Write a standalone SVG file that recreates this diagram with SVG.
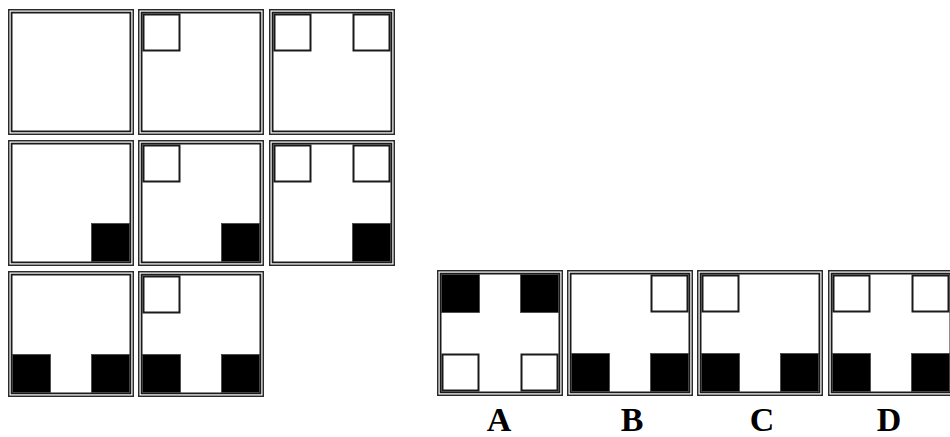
<svg xmlns="http://www.w3.org/2000/svg" xmlns:xlink="http://www.w3.org/1999/xlink" width="950" height="437" viewBox="0 0 950 437">
<style>
.o{fill:#fff;stroke:#2a2a2a;stroke-width:1.5}
.i{fill:none;stroke:#1a1a1a;stroke-width:1.8}
.w{fill:#fff;stroke:#1a1a1a;stroke-width:2}
.b{fill:#000;stroke:#444;stroke-width:0.8}
.lbl{font-family:"Liberation Serif","Times New Roman",serif;font-weight:bold;font-size:34px;fill:#000;text-anchor:middle}
</style>
<defs>
<g id="frame">
<rect class="o" x="0.75" y="0.75" width="124.5" height="124.5"/>
<rect class="i" x="3.6" y="3.6" width="118.8" height="118.8"/>
</g>
<rect id="wTL" class="w" x="5.5" y="5.5" width="36" height="36"/>
<rect id="wTR" class="w" x="84.5" y="5.5" width="36" height="36"/>
<rect id="wBL" class="w" x="5.5" y="84.5" width="36" height="36"/>
<rect id="wBR" class="w" x="84.5" y="84.5" width="36" height="36"/>
<rect id="bTL" class="b" x="4.5" y="4.5" width="38" height="38"/>
<rect id="bTR" class="b" x="83.5" y="4.5" width="38" height="38"/>
<rect id="bBL" class="b" x="4.5" y="83.5" width="38" height="38"/>
<rect id="bBR" class="b" x="83.5" y="83.5" width="38" height="38"/>
</defs>
<g id="r1c1" transform="translate(8,9)"><use xlink:href="#frame"/></g>
<g id="r1c2" transform="translate(138,9)"><use xlink:href="#frame"/><use xlink:href="#wTL"/></g>
<g id="r1c3" transform="translate(269,9)"><use xlink:href="#frame"/><use xlink:href="#wTL"/><use xlink:href="#wTR"/></g>
<g id="r2c1" transform="translate(8,140)"><use xlink:href="#frame"/><use xlink:href="#bBR"/></g>
<g id="r2c2" transform="translate(138,140)"><use xlink:href="#frame"/><use xlink:href="#wTL"/><use xlink:href="#bBR"/></g>
<g id="r2c3" transform="translate(269,140)"><use xlink:href="#frame"/><use xlink:href="#wTL"/><use xlink:href="#wTR"/><use xlink:href="#bBR"/></g>
<g id="r3c1" transform="translate(8,271)"><use xlink:href="#frame"/><use xlink:href="#bBL"/><use xlink:href="#bBR"/></g>
<g id="r3c2" transform="translate(138,271)"><use xlink:href="#frame"/><use xlink:href="#wTL"/><use xlink:href="#bBL"/><use xlink:href="#bBR"/></g>
<g id="optA" transform="translate(437,270)"><use xlink:href="#frame"/><use xlink:href="#bTL"/><use xlink:href="#bTR"/><use xlink:href="#wBL"/><use xlink:href="#wBR"/></g>
<g id="optB" transform="translate(567,270)"><use xlink:href="#frame"/><use xlink:href="#wTR"/><use xlink:href="#bBL"/><use xlink:href="#bBR"/></g>
<g id="optC" transform="translate(697,270)"><use xlink:href="#frame"/><use xlink:href="#wTL"/><use xlink:href="#bBL"/><use xlink:href="#bBR"/></g>
<g id="optD" transform="translate(828,270)"><use xlink:href="#frame"/><use xlink:href="#wTL"/><use xlink:href="#wTR"/><use xlink:href="#bBL"/><use xlink:href="#bBR"/></g>
<g id="labels">
<text class="lbl" x="499" y="431">A</text>
<text class="lbl" x="632" y="431">B</text>
<text class="lbl" x="762" y="431">C</text>
<text class="lbl" x="889" y="431">D</text>
</g>
<g id="connectors"/>
</svg>
